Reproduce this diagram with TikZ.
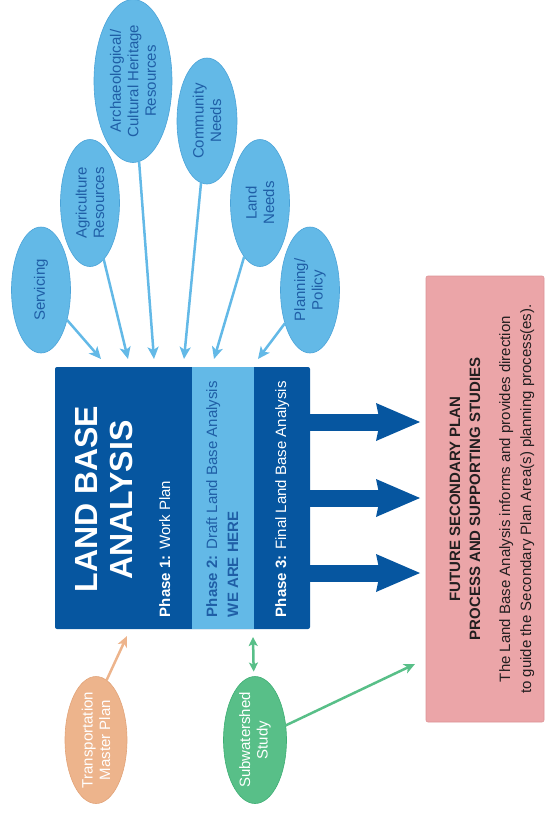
\documentclass[tikz,border=0pt]{standalone}
\usepackage{fontspec}
\setmainfont{Liberation Sans}
\usetikzlibrary{arrows.meta,shapes.geometric}
\definecolor{dblue}{HTML}{0656A0}
\definecolor{lblue}{HTML}{63B9E7}
\definecolor{eborder}{HTML}{4BA3D8}
\definecolor{etext}{HTML}{1F5EA6}
\definecolor{pinkf}{HTML}{EBA5A8}
\definecolor{pinkd}{HTML}{DC9396}
\definecolor{peach}{HTML}{EDB48C}
\definecolor{peachd}{HTML}{E2A47A}
\definecolor{gfill}{HTML}{58BF88}
\definecolor{gdark}{HTML}{3EAE74}
\definecolor{txt}{HTML}{231F20}
\begin{document}
\begin{tikzpicture}[x=1pt,y=-1pt,
  fnt/.style={font=\fontsize{15}{17.5}\selectfont},
  bub/.style={ellipse, draw=eborder, line width=0.6pt, fill=lblue, text=etext,
    rotate=90, inner sep=-8pt, outer sep=0pt, align=center, fnt},
  gbub/.style={bub, fill=gfill, draw=gdark, text=white},
  pbub/.style={bub, fill=peach, draw=peachd, text=white},
  rtxt/.style={rotate=90, inner sep=0pt, outer sep=0pt},
  inarr/.style={draw=lblue, line width=2.5pt, -{Stealth[length=12pt,width=11pt,inset=3pt]}},
  bigarr/.style={draw=dblue, line width=17pt, -{Stealth[length=44pt,width=38pt,inset=4pt,line width=0pt]}},
  grarr/.style={draw=gfill, line width=2.5pt},
  pearr/.style={draw=peach, line width=2.5pt, -{Stealth[length=11pt,width=10pt,inset=3pt]}}
]
\useasboundingbox (0,0) rectangle (546,817);

% input bubbles
\node[bub, minimum width=126pt, minimum height=59pt] (serv) at (41,290) {Servicing};
\node[bub, minimum width=127pt, minimum height=59pt] (agri) at (90,203) {Agriculture\\Resources};
\node[bub, minimum width=163pt, minimum height=78pt] (arch) at (133,81) {Archaeological/\\Cultural Heritage\\Resources};
\node[bub, minimum width=126pt, minimum height=60pt] (comm) at (207,121) {Community\\Needs};
\node[bub, minimum width=127pt, minimum height=59pt] (land) at (260,203) {Land\\Needs};
\node[bub, minimum width=126pt, minimum height=59pt] (plan) at (310,290) {Planning/\\Policy};

% main box
\node[fill=dblue, rounded corners=2pt, minimum width=255pt, minimum height=262pt, inner sep=0pt] (lba) at (182.5,498) {};
\fill[lblue] (192,367) rectangle (254,629);
\node[rtxt, anchor=base, text=white, font=\fontsize{32}{35}\selectfont\bfseries] (t1) at (97,499) {LAND BASE};
\node[rtxt, anchor=base, text=white, font=\fontsize{32}{35}\selectfont\bfseries] (t2) at (132,500) {ANALYSIS};
\node[rtxt, anchor=base west, text=white, fnt] (p1) at (170,617) {\bfseries Phase 1:\mdseries{} Work Plan};
\node[rtxt, anchor=base west, text=etext, fnt] (p2) at (217,617) {\bfseries Phase 2:\mdseries{} Draft Land Base Analysis};
\node[rtxt, anchor=base west, text=etext, fnt] (p2b) at (238,617) {\bfseries WE ARE HERE};
\node[rtxt, anchor=base west, text=white, fnt] (p3) at (286,617) {\bfseries Phase 3:\mdseries{} Final Land Base Analysis};

% output box
\node[fill=pinkf, draw=pinkd, line width=0.6pt, rounded corners=2pt, minimum width=118pt, minimum height=446pt, inner sep=0pt] (fut) at (485,499) {};
\node[rtxt, anchor=base, text=txt, font=\fontsize{15}{17.5}\selectfont\bfseries] (f1) at (460,499) {FUTURE SECONDARY PLAN};
\node[rtxt, anchor=base, text=txt, font=\fontsize{15}{17.5}\selectfont\bfseries] (f2) at (480,499) {PROCESS AND SUPPORTING STUDIES};
\node[rtxt, anchor=base, text=txt, fnt] (f3) at (510,499) {The Land Base Analysis informs and provides direction};
\node[rtxt, anchor=base, text=txt, fnt] (f4) at (531,499) {to guide the Secondary Plan Area(s) planning process(es).};

% bottom bubbles
\node[pbub, minimum width=127pt, minimum height=62pt] (trans) at (96,740) {Transportation\\Master Plan};
\node[gbub, minimum width=127pt, minimum height=63pt] (subw) at (255,740) {Subwatershed\\Study};

% arrow targets
\coordinate (a1) at (101,359);
\coordinate (a2) at (128,359);
\coordinate (a3) at (154,359);
\coordinate (a4) at (184,359);
\coordinate (a5) at (214,359);
\coordinate (a6) at (258,359);
\draw[inarr] (serv) -- (a1);
\draw[inarr] (agri) -- (a2);
\draw[inarr] (arch) -- (a3);
\draw[inarr] (comm) -- (a4);
\draw[inarr] (land) -- (a5);
\draw[inarr] (plan) -- (a6);

% big arrows
\coordinate (b1) at (420,422);
\coordinate (b2) at (420,498);
\coordinate (b3) at (420,573);
\draw[bigarr] (lba.east |- b1) -- (b1);
\draw[bigarr] (lba.east |- b2) -- (b2);
\draw[bigarr] (lba.east |- b3) -- (b3);

% bottom connectors
\coordinate (pe) at (127,636);
\draw[pearr] (trans.-10) -- (pe);
\coordinate (gd) at (253,637);
\draw[grarr, {Stealth[length=9pt,width=9pt,inset=2pt]}-{Stealth[length=9pt,width=9pt,inset=2pt]}, shorten <=5pt] (subw) -- (gd);
\coordinate (ge) at (415,664);
\draw[grarr, -{Stealth[length=11pt,width=10pt,inset=3pt]}] (subw) -- (ge);
\end{tikzpicture}
\end{document}
